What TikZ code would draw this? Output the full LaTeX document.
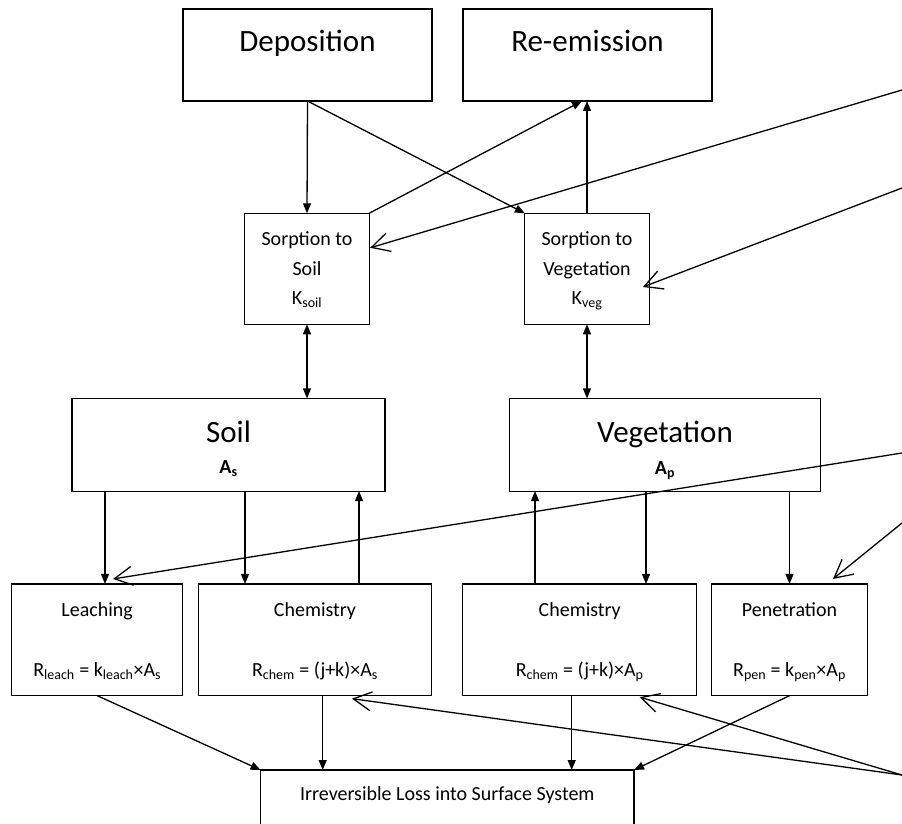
\documentclass[tikz,border=0pt]{standalone}
\usepackage{fontspec}
\setmainfont{Carlito}
\usetikzlibrary{arrows.meta,calc}
\begin{document}
\begin{tikzpicture}[x=1pt,y=-1pt,
  box/.style={draw=black, line width=1.1pt, inner sep=0pt, outer sep=0pt},
  big/.style={anchor=base, font=\fontsize{31}{37}\selectfont, inner sep=0pt},
  small/.style={anchor=base, font=\fontsize{20}{24}\selectfont, inner sep=0pt},
  arr/.style={line width=1.3pt, -{Triangle[length=10pt,width=8pt]}},
  dbl/.style={line width=1.3pt, {Triangle[length=10pt,width=8pt]}-{Triangle[length=10pt,width=8pt]}},
  barb/.style={line width=1.3pt, -{Straight Barb[length=18pt,width=19pt]}}
]
\useasboundingbox (0,0) rectangle (902,824);
\clip (0,0) rectangle (902,824);

% boxes
\node[box, minimum width=249pt, minimum height=92pt] (dep) at (307.5,55) {};
\node[box, minimum width=249pt, minimum height=92pt] (reem) at (587.5,55) {};
\node[box, minimum width=124.3pt, minimum height=111pt] (ssoil) at (307,268.8) {};
\node[box, minimum width=124.3pt, minimum height=111pt] (sveg) at (587,268.8) {};
\node[box, minimum width=313pt, minimum height=92.7pt] (soil) at (228.5,444.7) {};
\node[box, minimum width=311.4pt, minimum height=92.7pt] (veg) at (665,444.7) {};
\node[box, minimum width=171pt, minimum height=111.7pt] (leach) at (97.2,639.8) {};
\node[box, minimum width=233.4pt, minimum height=111.7pt] (chemA) at (315,639.8) {};
\node[box, minimum width=234pt, minimum height=111.7pt] (chemB) at (579.7,639.8) {};
\node[box, minimum width=155.6pt, minimum height=111.7pt] (pen) at (789.5,639.8) {};
\node[box, minimum width=373.3pt, minimum height=70pt] (loss) at (447.3,805) {};

% texts
\node[big] (tdep) at (307.5,52) {Deposition};
\node[big] (treem) at (587.5,52) {Re-emission};
\node[small] (ts1) at (307,245) {Sorption to};
\node[small] (ts2) at (307,275) {Soil};
\node[small] (ts3) at (307,304) {K\textsubscript{soil}};
\node[small] (tv1) at (587,245) {Sorption to};
\node[small] (tv2) at (587,275) {Vegetation};
\node[small] (tv3) at (587,304) {K\textsubscript{veg}};
\node[big] (tsoil) at (228.5,442) {Soil};
\node[small] (tas) at (228.5,473) {\textbf{A\textsubscript{s}}};
\node[big] (tveg) at (665,442) {Vegetation};
\node[small] (tap) at (665,474) {\textbf{A\textsubscript{p}}};
\node[small] (tl1) at (97.2,616) {Leaching};
\node[small] (tl2) at (97.2,676) {R\textsubscript{leach} = k\textsubscript{leach}×A\textsubscript{s}};
\node[small] (tc1) at (315,616) {Chemistry};
\node[small] (tc2) at (315,676) {R\textsubscript{chem} = (j+k)×A\textsubscript{s}};
\node[small] (td1) at (579.7,616) {Chemistry};
\node[small] (td2) at (579.7,676) {R\textsubscript{chem} = (j+k)×A\textsubscript{p}};
\node[small] (tp1) at (789.5,616) {Penetration};
\node[small] (tp2) at (789.5,676) {R\textsubscript{pen} = k\textsubscript{pen}×A\textsubscript{p}};
\node[small] (tloss) at (447.3,800) {Irreversible Loss into Surface System};

% column coordinates
\coordinate (xR) at (582,0);
\coordinate (x1) at (105,0);
\coordinate (x2) at (245,0);
\coordinate (x3) at (359,0);
\coordinate (x4) at (535,0);
\coordinate (x5) at (646,0);
\coordinate (x6) at (322.7,0);
\coordinate (x7) at (571.7,0);

% right-edge sources
\coordinate (r1) at (902,90);
\coordinate (r2) at (902,188);
\coordinate (r3) at (902,453);
\coordinate (r4) at (902,523);
\coordinate (r5) at (902,775);

% connectors
\draw[arr] (dep.south) -- (ssoil.north);
\draw[arr] (dep.south) -- (sveg.north west);
\draw[arr] (ssoil.north east) -- (reem.south -| xR);
\draw[arr] (sveg.north) -- (reem.south -| sveg.north);
\draw[dbl] (ssoil.south) -- (soil.north -| ssoil.south);
\draw[dbl] (sveg.south) -- (veg.north -| sveg.south);
\draw[arr] (soil.south -| x1) -- (leach.north -| x1);
\draw[arr] (soil.south -| x2) -- (chemA.north -| x2);
\draw[arr] (chemA.north -| x3) -- (soil.south -| x3);
\draw[arr] (chemB.north -| x4) -- (veg.south -| x4);
\draw[arr] (veg.south -| x5) -- (chemB.north -| x5);
\draw[arr] (veg.south -| pen.north) -- (pen.north);
\draw[arr] (leach.south) -- (loss.north west);
\draw[arr] (chemA.south -| x6) -- (loss.north -| x6);
\draw[arr] (chemB.south -| x7) -- (loss.north -| x7);
\draw[arr] (pen.south) -- (loss.north east);

\draw[barb] (r1) -- ($(ssoil.east)+(1,-21)$);
\draw[barb] (r2) -- ($(sveg.east)+(-6.3,18.2)$);
\draw[barb] (r3) -- ($(leach.north)+(15.8,-5)$);
\draw[barb] (r4) -- ($(pen.north)+(43.5,-5)$);
\draw[barb] (r5) -- ($(chemA.south)+(37,3)$);
\draw[barb] (r5) -- ($(chemB.south)+(60,1.5)$);
\end{tikzpicture}
\end{document}
